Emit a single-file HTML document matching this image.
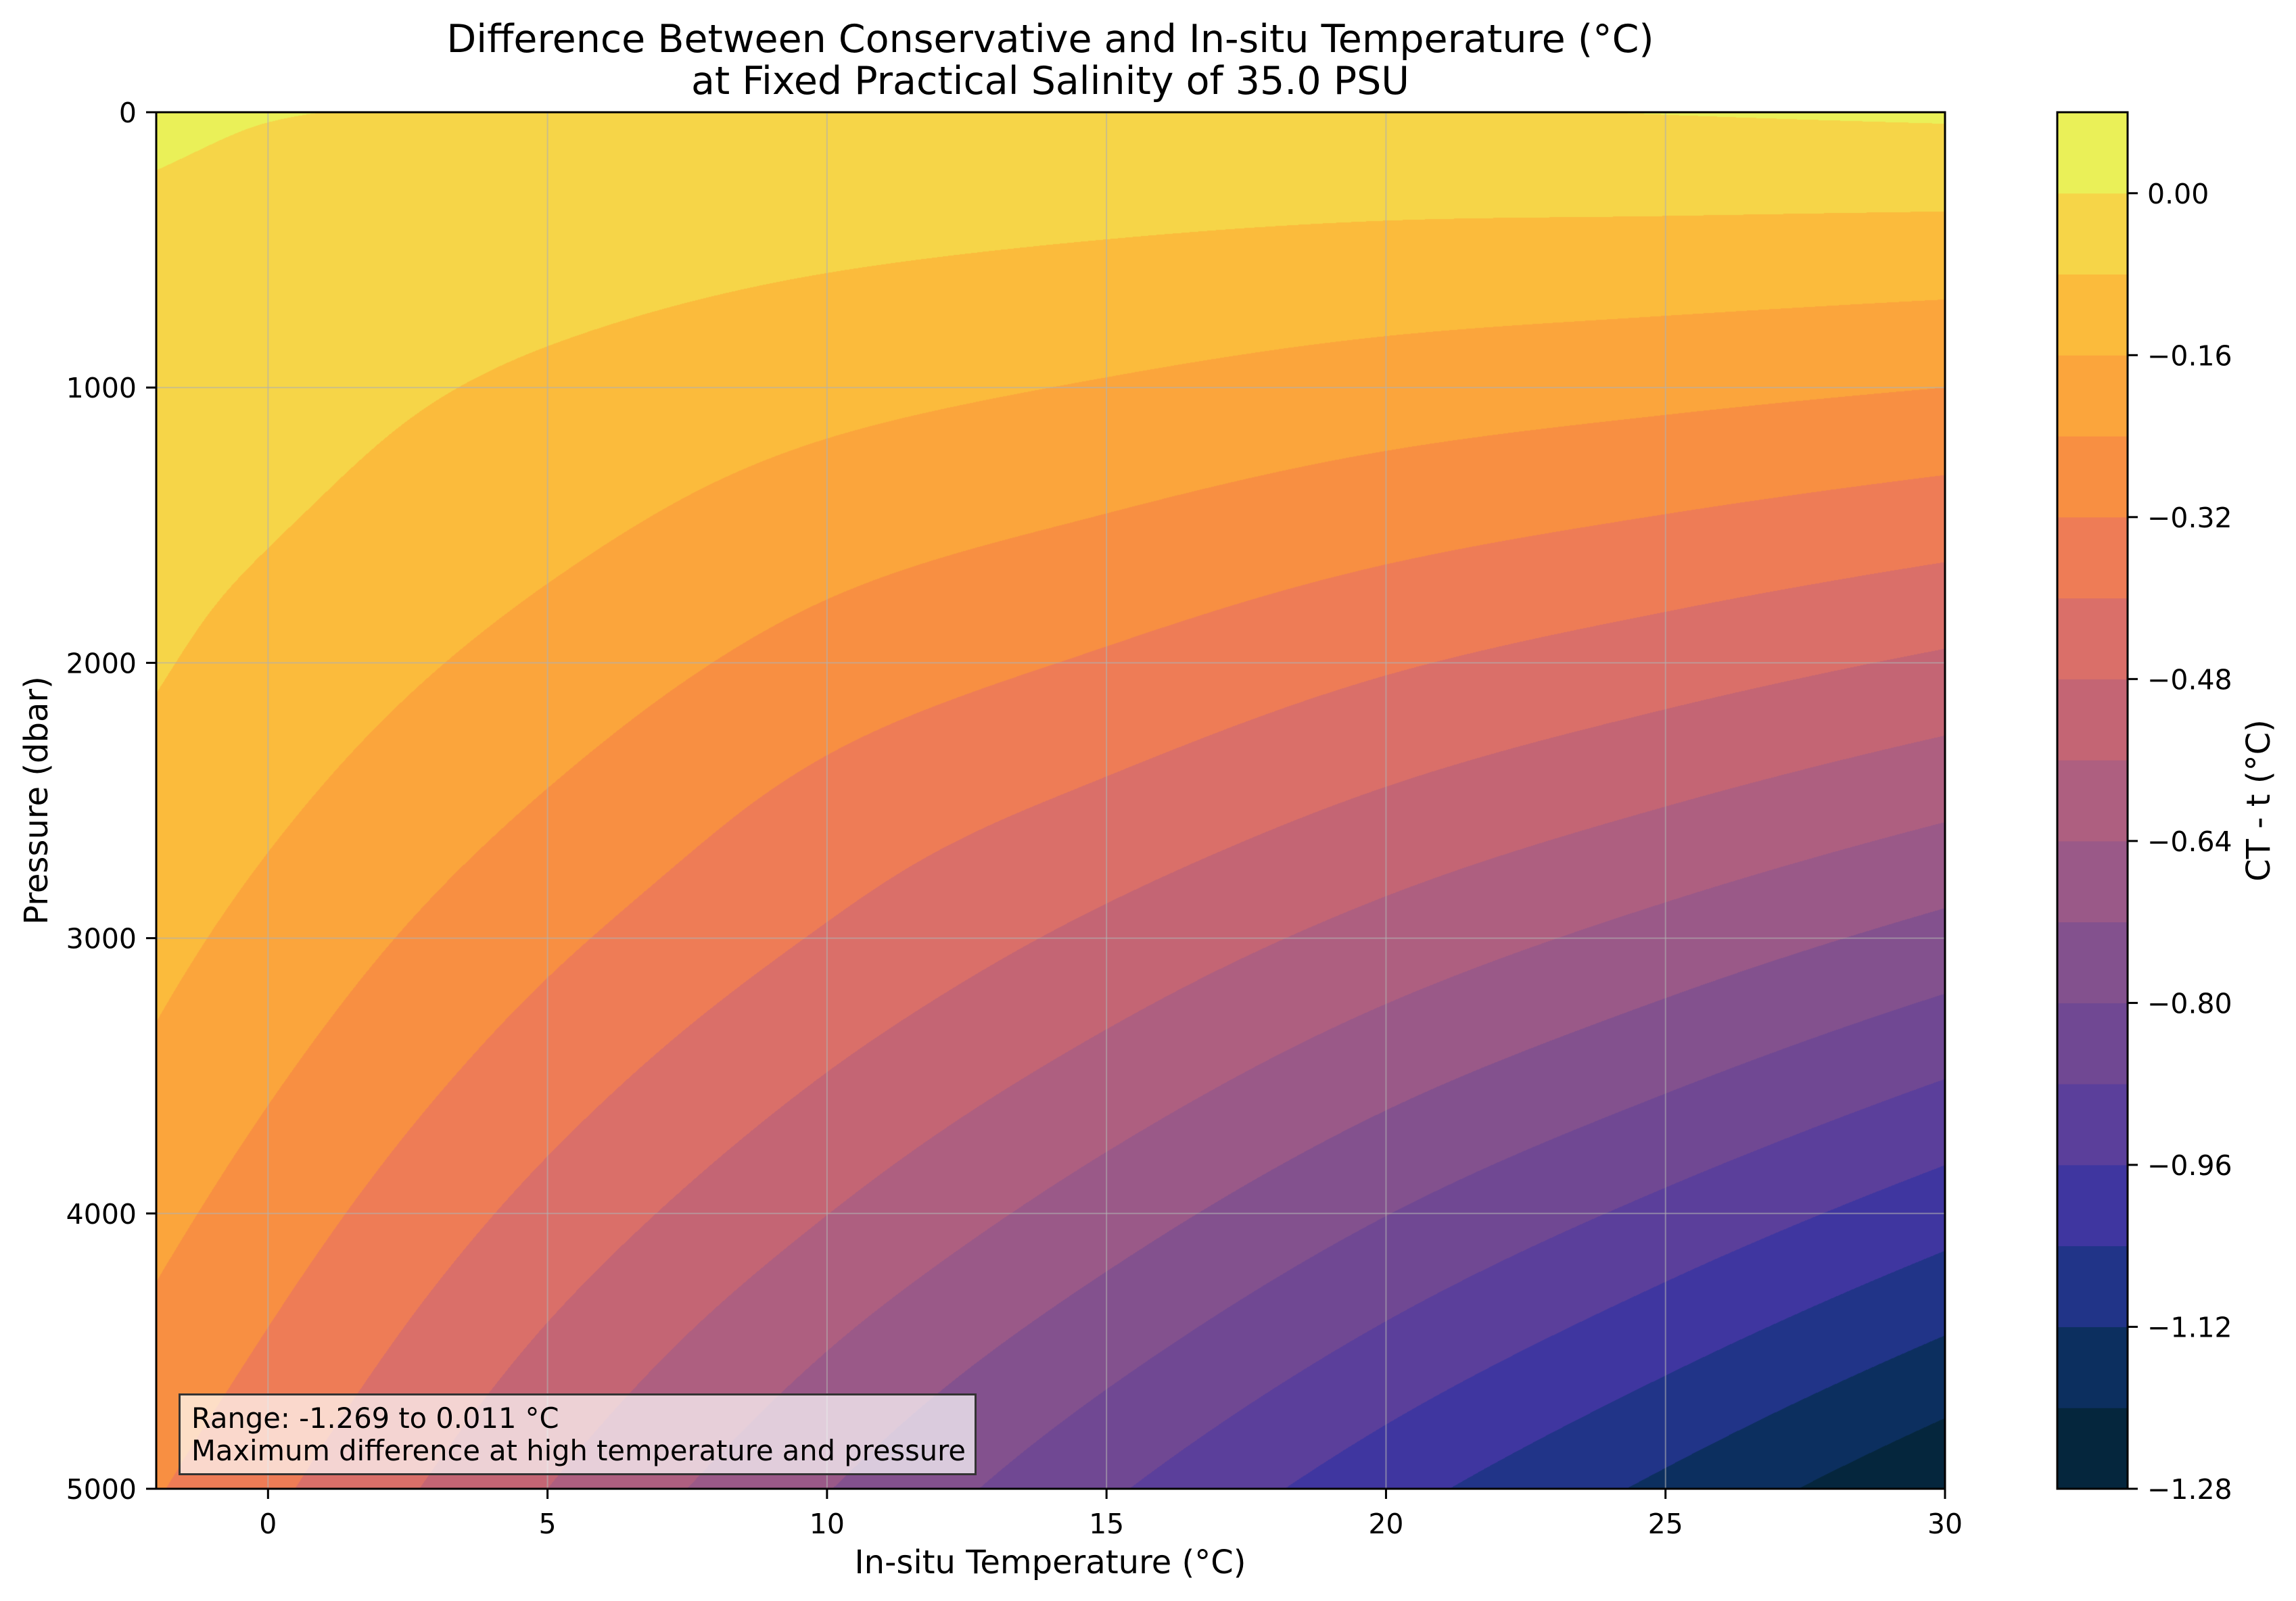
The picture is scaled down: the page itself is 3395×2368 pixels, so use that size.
<!DOCTYPE html>
<html><head><meta charset="utf-8"><style>
body{margin:0;background:#fff;}
#wrap{position:relative;width:3395px;height:2368px;font-family:"DejaVu Sans","Liberation Sans",sans-serif;color:#000;}
.t{position:absolute;white-space:nowrap;}
</style></head><body>
<div id="wrap">
<div class="t" style="left:1553px;top:27px;transform:translateX(-50%);font-size:57px;text-align:center;line-height:62px;">Difference Between Conservative and In-situ Temperature (°C)<br>at Fixed Practical Salinity of 35.0 PSU</div>
<canvas id="cv" width="2645" height="2036" style="position:absolute;left:231px;top:166px;"></canvas>
<svg id="sv" width="3395" height="2368" style="position:absolute;left:0;top:0;"></svg>
<div class="t" style="left:264px;top:2061px;width:1180px;height:121px;background:rgba(255,255,255,0.7);border:3px solid #333;font-size:41.6px;line-height:48px;padding:0 0 0 16px;box-sizing:border-box;padding-top:10px;">Range: -1.269 to 0.011 °C<br>Maximum difference at high temperature and pressure</div>
<div class="t" style="left:1553px;top:2283px;transform:translateX(-50%);font-size:48px;">In-situ Temperature (°C)</div>
<div class="t" style="left:54px;top:1184px;transform:translate(-50%,-50%) rotate(-90deg);font-size:48px;">Pressure (dbar)</div>
<div class="t" style="left:3340px;top:1184px;transform:translate(-50%,-50%) rotate(-90deg);font-size:48px;">CT - t (°C)</div>
</div>
<script>
const temps=[-2,0,5,10,15,20,25,30];
const pressures=[0,500,1000,1500,2000,2500,3000,3500,4000,4500,5000];
const colTm2=[0.011,-0.0144,-0.0343,-0.0542,-0.0741,-0.104,-0.138,-0.175,-0.2175,-0.2637,-0.314];
const colT0=[0.002,-0.025,-0.05,-0.075,-0.108,-0.145,-0.186,-0.230,-0.278,-0.329,-0.383];
const colT5=[-0.002,-0.047,-0.094,-0.139,-0.190,-0.245,-0.303,-0.363,-0.427,-0.494,-0.56];
const colT10=[-0.004,-0.069,-0.135,-0.203,-0.272,-0.343,-0.408,-0.482,-0.559,-0.640,-0.717];
const colT15=[-0.009,-0.086,-0.166,-0.247,-0.330,-0.415,-0.502,-0.590,-0.681,-0.774,-0.868];
const colT20=[-0.0067,-0.100,-0.196,-0.292,-0.391,-0.490,-0.591,-0.694,-0.798,-0.903,-1.010];
const colT25=[0.002,-0.107,-0.218,-0.329,-0.442,-0.555,-0.670,-0.785,-0.902,-1.019,-1.138];
const colT30=[0.0105,-0.115,-0.240,-0.366,-0.493,-0.620,-0.748,-0.877,-1.005,-1.135,-1.269];
const levels=[-1.28,-1.20,-1.12,-1.04,-0.96,-0.88,-0.80,-0.72,-0.64,-0.56,-0.48,-0.40,-0.32,-0.24,-0.16,-0.08,0.00,0.08];
const bandColors=["#05263d","#0c2f5f","#213488","#3f36a0","#5b3f9b","#704893","#83518e","#9a5988","#ae5f80","#c46574","#da6f69","#ee7c56","#f88f42","#fba53c","#fbbb3c","#f6d548","#eaf058"];
const xTicks=[0,5,10,15,20,25,30];
const yTicks=[0,1000,2000,3000,4000,5000];
const cbTicks=[0.00,-0.16,-0.32,-0.48,-0.64,-0.80,-0.96,-1.12,-1.28];

const grid=[colTm2,colT0,colT5,colT10,colT15,colT20,colT25,colT30];
const AX={l:231,r:2876,t:166,b:2202}, xmin=-2,xmax=30,pmin=0,pmax=5000;
const xs=v=>AX.l+(v-xmin)/(xmax-xmin)*(AX.r-AX.l);
const ys=v=>AX.t+(v-pmin)/(pmax-pmin)*(AX.b-AX.t);
const CB={l:3042,r:3146,t:166,b:2202}, cmin=-1.28,cmax=0.08;
const cs=v=>CB.b-(v-cmin)/(cmax-cmin)*(CB.b-CB.t);

function seg(arr,v){let i=0;while(i<arr.length-2&&v>arr[i+1])i++;return i;}
function cr(p0,p1,p2,p3,t){return 0.5*((2*p1)+(-p0+p2)*t+(2*p0-5*p1+4*p2-p3)*t*t+(-p0+3*p1-3*p2+p3)*t*t*t);}
function interp1(xarr,yarr,v){const i=seg(xarr,v);const n=xarr.length;
 const h=xarr[i+1]-xarr[i];const t=(v-xarr[i])/h;
 const y1=yarr[i],y2=yarr[i+1];
 const a0=i>0?y1+(yarr[i-1]-y1)*h/(xarr[i]-xarr[i-1]):2*y1-y2;
 const a3=i+2<n?y2+(yarr[i+2]-y2)*h/(xarr[i+2]-xarr[i+1]):2*y2-y1;
 return cr(a0,y1,y2,a3,t);}

const cv=document.getElementById('cv');const ctx=cv.getContext('2d');
const W=cv.width,H=cv.height;const img=ctx.createImageData(W,H);
const rgb=bandColors.map(c=>[parseInt(c.substr(1,2),16),parseInt(c.substr(3,2),16),parseInt(c.substr(5,2),16)]);
for(let y=0;y<H;y++){
 const p=pmin+(y+0.5)/H*(pmax-pmin);
 const rowByT=grid.map(c=>interp1(pressures,c,p));
 for(let x=0;x<W;x++){
  const T=xmin+(x+0.5)/W*(xmax-xmin);
  const f=interp1(temps,rowByT,T);
  let k=Math.floor((f-cmin)/0.08);if(k<0)k=0;if(k>16)k=16;
  const o=(y*W+x)*4;img.data[o]=rgb[k][0];img.data[o+1]=rgb[k][1];img.data[o+2]=rgb[k][2];img.data[o+3]=255;}
}
ctx.putImageData(img,0,0);

const NS='http://www.w3.org/2000/svg';const sv=document.getElementById('sv');
function mk(tag,attrs,name,parent){const e=document.createElementNS(NS,tag);for(const k in attrs)e.setAttribute(k,attrs[k]);
 
 
 (parent||sv).appendChild(e);return e;}
const FF='DejaVu Sans, Liberation Sans, sans-serif';
xTicks.forEach(v=>{const x=xs(v);
 mk('line',{x1:x,x2:x,y1:AX.t,y2:AX.b,stroke:'#b0b0b0','stroke-opacity':0.6,'stroke-width':2},'x-grid-line');
 mk('line',{x1:x,x2:x,y1:AX.b,y2:AX.b+15,stroke:'#000','stroke-width':3},'x-tick');
 const t=mk('text',{x:x,y:AX.b+66,'text-anchor':'middle','font-size':41,'font-family':FF},'x-tick-label');t.textContent=v;});
yTicks.forEach(v=>{const y=ys(v);
 mk('line',{x1:AX.l,x2:AX.r,y1:y,y2:y,stroke:'#b0b0b0','stroke-opacity':0.6,'stroke-width':2},'y-grid-line');
 mk('line',{x1:AX.l-15,x2:AX.l,y1:y,y2:y,stroke:'#000','stroke-width':3},'y-tick');
 const t=mk('text',{x:AX.l-29,y:y+15,'text-anchor':'end','font-size':41,'font-family':FF},'y-tick-label');t.textContent=v;});
mk('rect',{x:AX.l,y:AX.t,width:AX.r-AX.l,height:AX.b-AX.t,fill:'none',stroke:'#000','stroke-width':3},'plot-frame');
bandColors.forEach((c,i)=>{const y1=cs(levels[i+1]),y0=cs(levels[i]);
 mk('rect',{x:CB.l,y:y1,width:CB.r-CB.l,height:y0-y1+0.5,fill:c},'colorbar-band');});
mk('rect',{x:CB.l,y:CB.t,width:CB.r-CB.l,height:CB.b-CB.t,fill:'none',stroke:'#000','stroke-width':3},'colorbar-frame');
cbTicks.forEach(v=>{const y=cs(v);
 mk('line',{x1:CB.r,x2:CB.r+15,y1:y,y2:y,stroke:'#000','stroke-width':3},'colorbar-tick');
 const t=mk('text',{x:CB.r+29,y:y+15,'font-size':41,'font-family':FF},'colorbar-tick-label');
 t.textContent=(v<0?'\u2212':'')+Math.abs(v).toFixed(2);});
</script>
</body></html>
